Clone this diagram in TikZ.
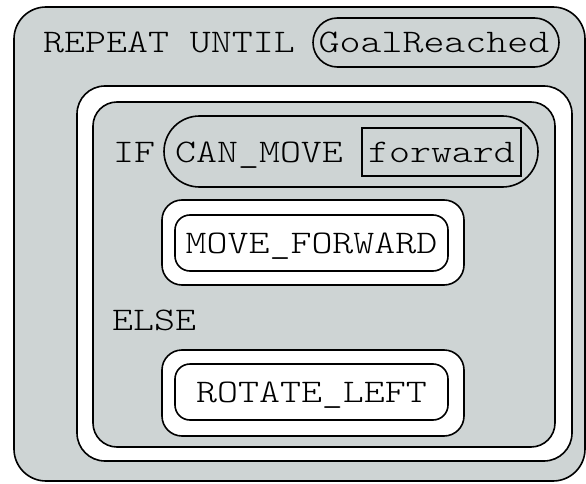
\documentclass[tikz,border=0pt]{standalone}
\usepackage{fontspec}
\newfontfamily\codefont{Latin Modern Mono Light}[FakeStretch=1.21]
\usetikzlibrary{shapes.misc}
\definecolor{panel}{RGB}{206,212,212}
\tikzset{
  frame/.style={draw=black, line width=1.6pt, rectangle, inner sep=0pt},
  pill/.style={draw=black, line width=1.6pt, rounded rectangle, inner sep=0pt},
  code/.style={inner sep=0pt, anchor=base west, font=\codefont\fontsize{33}{33}\selectfont},
}
\begin{document}
\begin{tikzpicture}[x=1pt, y=1pt]
\useasboundingbox (0,0) rectangle (586,483);
% outer loop block
\node[frame, fill=panel, rounded corners=32pt, minimum width=571pt, minimum height=474pt] (loop) at (299.5,239) {};
\node[code] (repeat) at (43,430) {REPEAT UNTIL};
\node[pill, fill=panel, minimum width=246pt, minimum height=49pt] (goal) at (436,440.5) {};
\node[code, anchor=base] (goaltxt) at (434,430) {GoalReached};
% loop body: white ring around the conditional block
\node[frame, fill=white, rounded corners=28pt, minimum width=495pt, minimum height=375pt] (body) at (324.5,209.5) {};
\node[frame, fill=panel, rounded corners=24pt, minimum width=462pt, minimum height=345pt] (cond) at (324,208.5) {};
% IF condition
\node[code] (iftxt) at (113,321) {IF};
\node[pill, fill=panel, minimum width=374pt, minimum height=71pt] (test) at (351,331.5) {};
\node[code] (canmove) at (175,321) {CAN\_MOVE};
\node[frame, minimum width=159pt, minimum height=48pt] (dir) at (441.5,331) {};
\node[code, anchor=base] (dirtxt) at (441.5,321) {forward};
% THEN branch
\node[frame, fill=white, rounded corners=20pt, minimum width=302pt, minimum height=85pt] (thenblk) at (313,240.5) {};
\node[frame, fill=white, rounded corners=15pt, minimum width=273pt, minimum height=56pt] (fwd) at (311.5,240) {};
\node[code, anchor=base] (fwdtxt) at (311.5,230) {MOVE\_FORWARD};
% ELSE branch
\node[code] (elsetxt) at (112,153) {ELSE};
\node[frame, fill=white, rounded corners=20pt, minimum width=302pt, minimum height=86pt] (elseblk) at (313,90) {};
\node[frame, fill=white, rounded corners=15pt, minimum width=273pt, minimum height=56pt] (rot) at (311.5,91) {};
\node[code, anchor=base] (rottxt) at (311.5,81) {ROTATE\_LEFT};
\end{tikzpicture}
\end{document}
